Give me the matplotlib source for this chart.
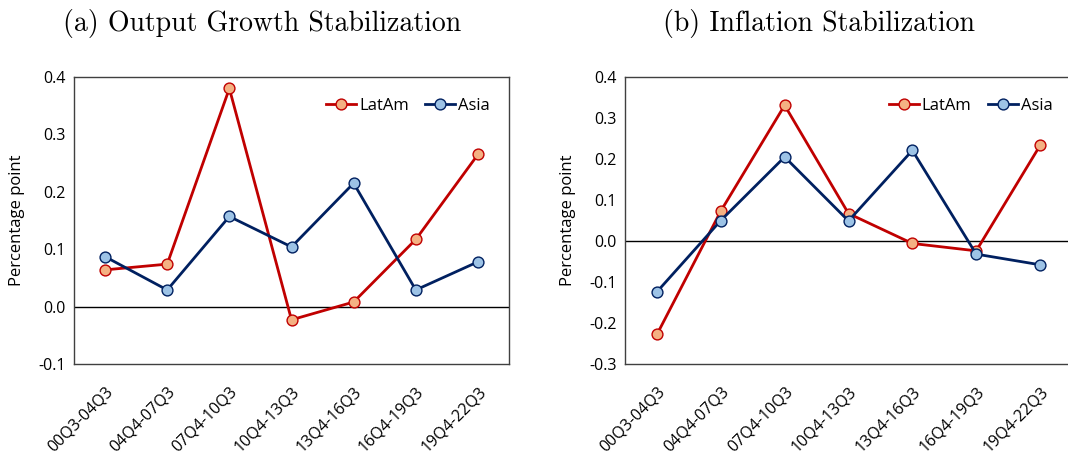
import matplotlib
matplotlib.use("Agg")
import matplotlib.pyplot as plt
from matplotlib.transforms import ScaledTranslation

periods = ["00Q3-04Q3", "04Q4-07Q3", "07Q4-10Q3", "10Q4-13Q3",
           "13Q4-16Q3", "16Q4-19Q3", "19Q4-22Q3"]

output_latam = [0.064, 0.074, 0.380, -0.023, 0.008, 0.117, 0.265]
output_asia = [0.087, 0.029, 0.157, 0.104, 0.215, 0.029, 0.078]

infl_latam = [-0.228, 0.073, 0.331, 0.067, -0.006, -0.024, 0.233]
infl_asia = [-0.124, 0.050, 0.205, 0.049, 0.221, -0.032, -0.058]

titles = ["(a) Output Growth Stabilization", "(b) Inflation Stabilization"]

W, H = 1068, 458
fig = plt.figure(figsize=(W / 100, H / 100), dpi=100)

TICK_FONT = "Open Sans"
RED, RED_FACE = "#C00000", "#F4B183"
NAVY, NAVY_FACE = "#002060", "#9DC3E6"


def px_axes(x0, y0, x1, y1):
    return fig.add_axes([x0 / W, 1 - y1 / H, (x1 - x0) / W, (y1 - y0) / H])


def panel(ax, latam, asia, ylim, yticks):
    x = range(len(periods))
    ax.axhline(0, color="black", lw=1.0, zorder=1)
    ax.plot(x, latam, color=RED, lw=2.0, marker="o", ms=7.8,
            mfc=RED_FACE, mec=RED, mew=1.0, label="LatAm", zorder=3)
    ax.plot(x, asia, color=NAVY, lw=2.0, marker="o", ms=7.8,
            mfc=NAVY_FACE, mec=NAVY, mew=1.0, label="Asia", zorder=3)
    ax.set_xlim(-0.5, len(periods) - 0.5)
    ax.set_ylim(*ylim)
    ax.set_yticks(yticks)
    ax.set_yticklabels([f"{t:.1f}" for t in yticks], fontfamily=TICK_FONT,
                       fontsize=11.5)
    ax.set_xticks(list(x))
    ax.set_xticklabels(periods, rotation=45, ha="right", va="top",
                       rotation_mode="anchor", fontfamily=TICK_FONT,
                       fontsize=11.5)
    off = ScaledTranslation(5 / 100, 0, fig.dpi_scale_trans)
    for lab in ax.get_xticklabels():
        lab.set_transform(lab.get_transform() + off)
    ax.tick_params(axis="both", length=0)
    ax.tick_params(axis="x", pad=14)
    ax.tick_params(axis="y", pad=6)
    ax.set_ylabel("Percentage point", fontfamily=TICK_FONT, fontsize=12)
    for s in ax.spines.values():
        s.set_color("#404040")
        s.set_linewidth(1.0)
    leg = ax.legend(loc="upper right", ncol=2, frameon=False,
                    prop={"family": TICK_FONT, "size": 12},
                    handlelength=1.8, handletextpad=0.15, columnspacing=1.0,
                    bbox_to_anchor=(0.99, 0.98))
    return leg


ax1 = px_axes(74, 77, 509, 364)
panel(ax1, output_latam, output_asia, (-0.1, 0.4),
      [-0.1, 0.0, 0.1, 0.2, 0.3, 0.4])
ax1.yaxis.set_label_coords(-0.112, 0.5)

ax2 = px_axes(625, 77, 1072, 364)
panel(ax2, infl_latam, infl_asia, (-0.3, 0.4),
      [-0.3, -0.2, -0.1, 0.0, 0.1, 0.2, 0.3, 0.4])
ax2.yaxis.set_label_coords(-0.11, 0.5)

fig.text(262 / W, 1 - 24 / H, titles[0], fontfamily="cmr10", fontsize=20,
         ha="center", va="center")
fig.text(819 / W, 1 - 24 / H, titles[1], fontfamily="cmr10", fontsize=20,
         ha="center", va="center")

fig.savefig("out.png", dpi=100)
